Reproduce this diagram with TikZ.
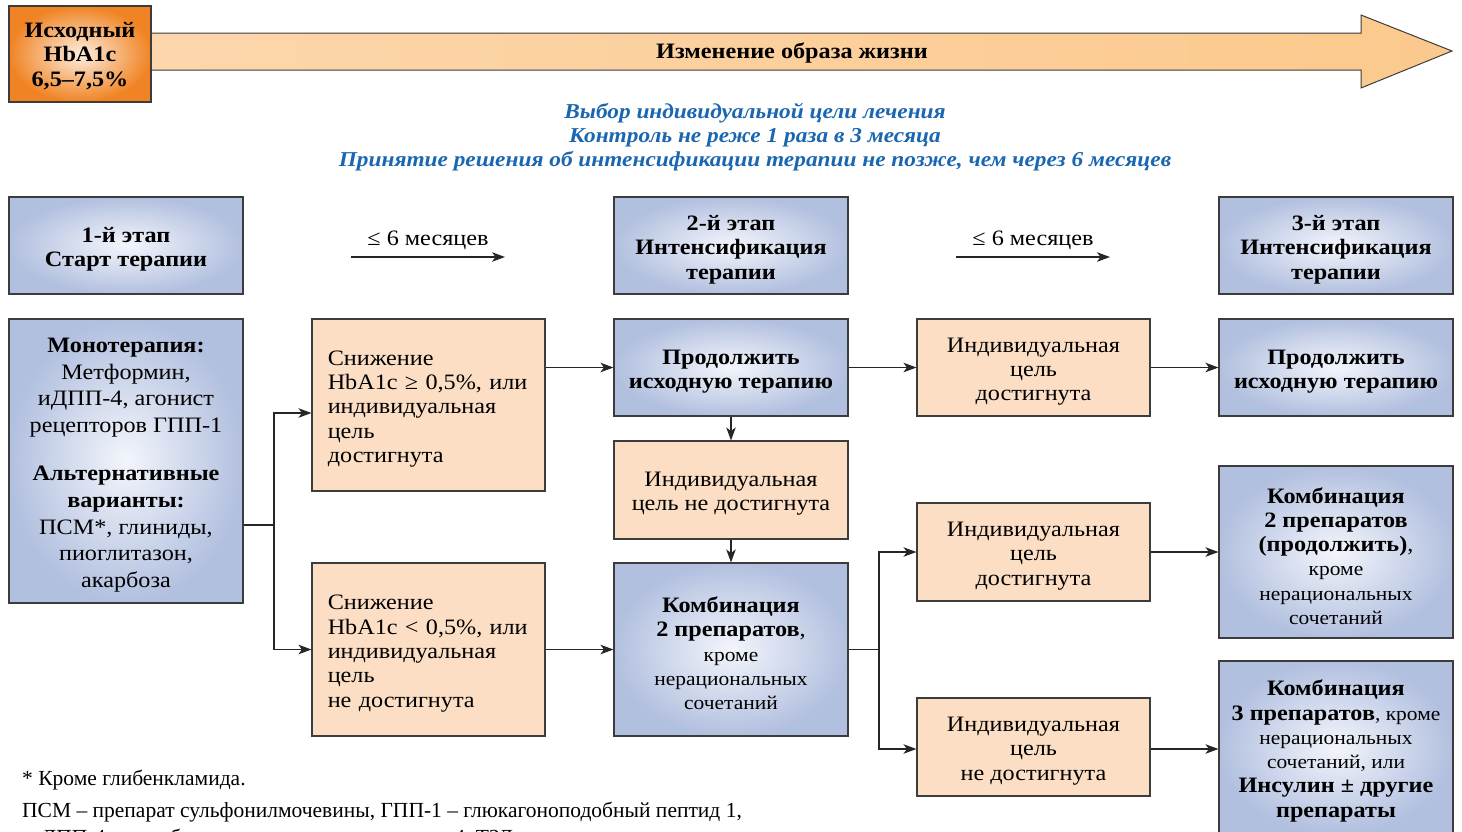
\documentclass[tikz,border=0pt]{standalone}
\usepackage{fontspec}
\setmainfont{Liberation Serif}[FakeStretch=1.1]
\newfontfamily\notefam{Liberation Serif}
\usetikzlibrary{arrows.meta,calc}
\definecolor{peach}{HTML}{FCDEC4}
\definecolor{bedge}{HTML}{B2C0DF}
\definecolor{bcenter}{HTML}{F3F5FB}
\definecolor{bord}{HTML}{3C3C3C}
\definecolor{orng}{HTML}{F08424}
\definecolor{orngc}{HTML}{FDEEDF}
\definecolor{ttlblue}{HTML}{1A66B0}
\definecolor{arrL}{HTML}{FDD6AC}
\definecolor{arrM}{HTML}{FDE0C3}
\definecolor{arrR}{HTML}{FBC98C}
\newcommand\boxfont{\fontsize{22}{24.3}\selectfont}
\newcommand\monofont{\fontsize{22}{26.6}\selectfont}
\newcommand\smfont{\fontsize{19.5}{24.3}\selectfont}
\newcommand\notefont{\notefam\fontsize{21.5}{22}\selectfont}
% box with its text placed a little below the box centre
\newcommand\bx[5]{\node[#1] (#2) at (#3) {};
  \node[txt, #4] (#2t) at ([yshift=-4pt]#2.center) {#5};}
\begin{document}
\begin{tikzpicture}[x=1pt,y=-1pt,
  base/.style={draw=bord, line width=1.1pt, inner sep=0pt},
  bluebox/.style={base, inner color=bcenter, outer color=bedge},
  peachbox/.style={base, fill=peach},
  wide/.style={minimum width=234, minimum height=97},
  txt/.style={inner sep=0pt, align=center, font=\boxfont},
  bold/.style={font=\bfseries\boxfont},
  leftt/.style={align=left, text width=201.5},
  arr/.style={draw=black!85, line width=1.1pt, -{Stealth[length=13pt,width=9.5pt,inset=3.5pt]}},
  ln/.style={draw=black!85, line width=1.1pt},
]
\useasboundingbox (0,0) rectangle (1462,831);
\clip (0,0) rectangle (1462,831);

% big arrow
\shadedraw[draw=bord, line width=1pt, left color=arrL, middle color=arrM, right color=arrR]
  (151,33) -- (1361,33) -- (1361,15) -- (1452,51) -- (1361,88) -- (1361,70) -- (151,70) -- cycle;
\node[font=\bfseries\boxfont] (life) at (792,53) {Изменение образа жизни};

% start HbA1c
\node[base, inner color=orngc, outer color=orng, minimum width=142, minimum height=96] (start) at (80,54) {};
\node[txt, bold] (startt) at ([yshift=-2pt]start.center) {Исходный\\HbA1c\\6,5–7,5\%};

% goal text
\node[font=\bfseries\itshape\fontsize{21.2}{24}\selectfont, text=ttlblue, align=center] (goal) at (755,137)
  {Выбор индивидуальной цели лечения\\Контроль не реже 1 раза в 3 месяца\\Принятие решения об интенсификации терапии не позже, чем через 6 месяцев};

% headers
\bx{bluebox, wide}{h1}{126,245.5}{bold}{1-й этап\\Старт терапии}
\bx{bluebox, wide}{h2}{731,245.5}{bold}{2-й этап\\Интенсификация\\терапии}
\bx{bluebox, wide}{h3}{1336,245.5}{bold}{3-й этап\\Интенсификация\\терапии}

% interval labels
\node[font=\boxfont] (m1) at (428,240) {≤ 6 месяцев};
\coordinate (m1a) at (351,257); \coordinate (m1b) at (505,257);
\draw[arr] (m1a) -- (m1b);
\node[font=\boxfont] (m2) at (1033,240) {≤ 6 месяцев};
\coordinate (m2a) at (956,257); \coordinate (m2b) at (1110,257);
\draw[arr] (m2a) -- (m2b);

% stage 1
\bx{bluebox, minimum width=234, minimum height=284}{mono}{126,461}{font=\monofont}
  {\textbf{Монотерапия:}\\Метформин,\\иДПП-4, агонист\\рецепторов ГПП-1\\[22pt]\textbf{Альтернативные}\\\textbf{варианты:}\\ПСМ*, глиниды,\\пиоглитазон,\\акарбоза}

\bx{peachbox, minimum width=233, minimum height=172}{p1}{428.5,405}{leftt}
  {Снижение\\HbA1c ≥ 0,5\%, или\\индивидуальная\\цель\\достигнута}
\bx{peachbox, minimum width=233, minimum height=173}{p2}{428.5,649.5}{leftt}
  {Снижение\\HbA1c < 0,5\%, или\\индивидуальная\\цель\\не достигнута}

% stage 2
\bx{bluebox, wide}{cont1}{731,367.5}{bold}{Продолжить\\исходную терапию}
\bx{peachbox, minimum width=234, minimum height=98}{nr}{731,490}{}{Индивидуальная\\цель не достигнута}
\bx{bluebox, minimum width=234, minimum height=173}{combo}{731,649.5}{}
  {\textbf{Комбинация}\\\textbf{2 препаратов},\\{\smfont кроме}\\{\smfont нерациональных}\\{\smfont сочетаний}}

% stage 2-3 outcomes
\bx{peachbox, minimum width=233, minimum height=97}{ach1}{1033.5,367.5}{}{Индивидуальная\\цель\\достигнута}
\bx{peachbox, minimum width=233, minimum height=98}{ach2}{1033.5,552}{}{Индивидуальная\\цель\\достигнута}
\bx{peachbox, minimum width=233, minimum height=98}{nach2}{1033.5,747}{}{Индивидуальная\\цель\\не достигнута}

% stage 3
\bx{bluebox, wide}{cont2}{1336,367.5}{bold}{Продолжить\\исходную терапию}
\bx{bluebox, minimum width=234, minimum height=172}{c2}{1336,552}{}
  {\textbf{Комбинация}\\\textbf{2 препаратов}\\\textbf{(продолжить)},\\{\smfont кроме}\\{\smfont нерациональных}\\{\smfont сочетаний}}
\bx{bluebox, minimum width=234, minimum height=172}{c3}{1336,747}{}
  {\textbf{Комбинация}\\\textbf{3 препаратов}{\smfont, кроме}\\{\smfont нерациональных}\\{\smfont сочетаний, или}\\\textbf{Инсулин ± другие}\\\textbf{препараты}}

% connectors
\coordinate (j1) at (274,525);
\draw[ln] (mono.east |- j1) -- (j1);
\draw[arr] (j1) |- ([yshift=-8]p1.west);
\draw[arr] (j1) |- (p2.west);
\draw[arr] (p1.east |- cont1.west) -- (cont1.west);
\draw[arr] (p2.east) -- (combo.west);
\draw[arr] (cont1.south) -- (nr.north);
\draw[arr] (nr.south) -- (combo.north);
\draw[arr] (cont1.east) -- (ach1.west);
\draw[arr] (ach1.east) -- (cont2.west);
\coordinate (j2) at (879,649.5);
\draw[ln] (combo.east) -- (j2);
\draw[arr] (j2) |- (ach2.west);
\draw[arr] (j2) |- ([yshift=-2]nach2.west);
\draw[arr] (ach2.east) -- (c2.west);
\draw[arr] ([yshift=-2]nach2.east) -- ([yshift=-2]nach2.east -| c3.west);

% footnotes
\node[anchor=base west, font=\notefont, inner sep=0] (fn1) at (22,785) {* Кроме глибенкламида.};
\node[anchor=base west, font=\notefont, inner sep=0] (fn2) at (22,817) {ПСМ – препарат сульфонилмочевины, ГПП-1 – глюкагоноподобный пептид 1,};
\node[anchor=base west, font=\notefont, inner sep=0] (fn3) at (30,844) {иДПП-4 – ингибиторы дипептидилпептидазы 4, ТЗД};
\end{tikzpicture}
\end{document}
